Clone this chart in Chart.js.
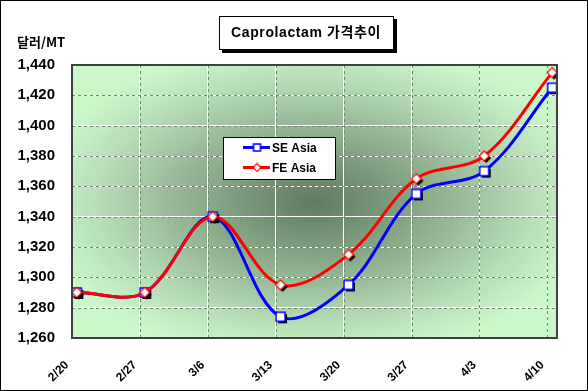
<!DOCTYPE html>
<html>
<head>
<meta charset="utf-8">
<script src="https://cdn.jsdelivr.net/npm/chart.js@4/dist/chart.umd.min.js"></script>
<style>
  html, body { margin: 0; padding: 0; background: #fff; }
  canvas { display: block; }
</style>
</head>
<body>
<canvas id="chart" width="588" height="391"></canvas>
<script>
// 데이터
const dayLabels = ['2/20', '2/27', '3/6', '3/13', '3/20', '3/27', '4/3', '4/10'];
const seAsia = [1290, 1290, 1340, 1274, 1295, 1355, 1370, 1425];
const feAsia = [1290, 1290, 1340, 1295, 1315, 1365, 1380, 1435];
const seriesNames = ['SE Asia', 'FE Asia'];
const yMin = 1260;
const yMax = 1440;
const yStep = 20;

const DAYS_PER_WEEK = 7;
const AXIS_DAYS = 50;      // 2/20 ~ 4/11 (날짜축)
const DAY_CENTER = 0.5;    // 점은 날짜 칸의 가운데

function toPoints(values) {
  return values.map((v, i) => ({ x: i * DAYS_PER_WEEK + DAY_CENTER, y: v }));
}

// 그림자 있는 마커 이미지
function makeMarker(shape, color, size, shadow) {
  const c = document.createElement('canvas');
  const dim = size + 8;
  c.width = dim;
  c.height = dim;
  const ctx = c.getContext('2d');
  const m = dim / 2;
  const h = size / 2;

  function path(dx) {
    ctx.beginPath();
    if (shape === 'square') {
      ctx.rect(m - h + dx, m - h + dx, size, size);
    } else {
      ctx.moveTo(m + dx, m - h + dx);
      ctx.lineTo(m + h + dx, m + dx);
      ctx.lineTo(m + dx, m + h + dx);
      ctx.lineTo(m - h + dx, m + dx);
      ctx.closePath();
    }
  }
  if (shadow) {
    path(2);
    ctx.fillStyle = '#000';
    ctx.fill();
  }
  path(0);
  ctx.fillStyle = '#fff';
  ctx.fill();
  ctx.lineWidth = shape === 'square' ? 1.5 : 1.2;
  ctx.strokeStyle = color;
  ctx.stroke();
  return c;
}

const seMarker = makeMarker('square', '#0000ff', 9, true);
const feMarker = makeMarker('diamond', '#ff0000', 10, true);
const seLegendMarker = makeMarker('square', '#0000ff', 7, false);
const feLegendMarker = makeMarker('diamond', '#ff0000', 8, false);

// 배경 + 격자 점선
const plotBackground = {
  id: 'plotBackground',
  beforeDraw(chart) {
    const { ctx, chartArea: a } = chart;
    ctx.save();
    ctx.fillStyle = '#fff';
    ctx.fillRect(0, 0, chart.width, chart.height);
    const w = a.right - a.left;
    const hgt = a.bottom - a.top;
    const ratio = hgt / w;
    ctx.translate((a.left + a.right) / 2, (a.top + a.bottom) / 2);
    ctx.scale(1, ratio);
    const g = ctx.createRadialGradient(0, 0, 0, 0, 0, w * 0.58);
    g.addColorStop(0, '#5f7a5f');
    g.addColorStop(0.25, '#7a987a');
    g.addColorStop(0.52, '#9abb9a');
    g.addColorStop(0.78, '#b8dfb8');
    g.addColorStop(1, '#cbf8cb');
    ctx.fillStyle = g;
    ctx.fillRect(-w / 2, -hgt / 2 / ratio, w, hgt / ratio);
    ctx.restore();
  },
  beforeDatasetsDraw(chart) {
    const { ctx, chartArea: a, scales } = chart;
    ctx.save();
    ctx.strokeStyle = '#808080';
    ctx.lineWidth = 1;
    ctx.setLineDash([3, 3]);
    scales.y.ticks.forEach(t => {
      const y = Math.round(scales.y.getPixelForValue(t.value)) + 0.5;
      ctx.beginPath();
      ctx.moveTo(a.left, y);
      ctx.lineTo(a.right, y);
      ctx.stroke();
    });
    scales.x.ticks.forEach(t => {
      const x = Math.round(scales.x.getPixelForValue(t.value)) + 0.5;
      ctx.beginPath();
      ctx.moveTo(x, a.top);
      ctx.lineTo(x, a.bottom);
      ctx.stroke();
    });
    ctx.restore();
  },
  afterDatasetsDraw(chart) {
    const { ctx, chartArea: a } = chart;
    ctx.save();
    ctx.strokeStyle = '#404040';
    ctx.lineWidth = 2;
    ctx.strokeRect(a.left, a.top, a.right - a.left, a.bottom - a.top);
    ctx.restore();
  }
};

// 범례 상자 (플롯 안)
const boxLegend = {
  id: 'boxLegend',
  afterDraw(chart, args, opts) {
    const { ctx, chartArea: a } = chart;
    const x = a.left + opts.dx;
    const y = a.top + opts.dy;
    ctx.save();
    ctx.fillStyle = '#fff';
    ctx.fillRect(x, y, opts.width, opts.height);
    ctx.strokeStyle = '#000';
    ctx.lineWidth = 1;
    ctx.strokeRect(x + 0.5, y + 0.5, opts.width, opts.height);
    const markers = [seLegendMarker, feLegendMarker];
    chart.data.datasets.forEach((ds, i) => {
      const ry = Math.round(y + 10 + i * 20) + 0.5;
      ctx.strokeStyle = ds.borderColor;
      ctx.lineWidth = 3;
      ctx.beginPath();
      ctx.moveTo(x + 20, ry);
      ctx.lineTo(x + 47, ry);
      ctx.stroke();
      const mk = markers[i];
      ctx.drawImage(mk, x + 34 - mk.width / 2, ry - mk.height / 2);
      ctx.fillStyle = '#000';
      ctx.font = 'bold 12px "Liberation Sans", Arial, sans-serif';
      ctx.textBaseline = 'middle';
      ctx.fillText(ds.label, x + 49, ry + 1);
    });
    ctx.restore();
  }
};

// 제목, 단위, 테두리
const frameText = {
  id: 'frameText',
  afterDraw(chart) {
    const ctx = chart.ctx;
    ctx.save();
    // 제목 상자
    ctx.fillStyle = '#000';
    ctx.fillRect(222, 19, 175, 34);
    ctx.fillStyle = '#fff';
    ctx.fillRect(219, 16, 175, 34);
    ctx.strokeStyle = '#000';
    ctx.lineWidth = 1;
    ctx.strokeRect(219.5, 16.5, 174, 33);
    ctx.fillStyle = '#000';
    ctx.font = 'bold 14px "Liberation Sans", "Noto Sans CJK KR", sans-serif';
    ctx.letterSpacing = '0.6px';
    ctx.textAlign = 'center';
    ctx.textBaseline = 'middle';
    ctx.fillText('Caprolactam 가격추이', 306, 33);
    // 단위
    ctx.letterSpacing = '0px';
    ctx.textAlign = 'left';
    ctx.textBaseline = 'alphabetic';
    ctx.font = 'bold 13px "Noto Sans CJK KR", "Liberation Sans", sans-serif';
    ctx.fillText('달러/MT', 17, 47);
    // 바깥 테두리
    ctx.strokeStyle = '#000';
    ctx.strokeRect(0.5, 0.5, chart.width - 1, chart.height - 1);
    ctx.restore();
  }
};

const ctx = document.getElementById('chart').getContext('2d');
const chart = new Chart(ctx, {
  type: 'line',
  data: {
    datasets: [
      {
        label: seriesNames[0],
        data: toPoints(seAsia),
        borderColor: '#0000ff',
        backgroundColor: '#0000ff',
        borderWidth: 3,
        tension: 0.35,
        pointStyle: seMarker,
        pointRadius: 5,
        order: 1
      },
      {
        label: seriesNames[1],
        data: toPoints(feAsia),
        borderColor: '#ff0000',
        backgroundColor: '#ff0000',
        borderWidth: 3,
        tension: 0.35,
        pointStyle: feMarker,
        pointRadius: 5,
        order: 0
      }
    ]
  },
  options: {
    responsive: false,
    animation: false,
    devicePixelRatio: 1,
    layout: { padding: { top: 65, right: 31, left: 0, bottom: 0 } },
    plugins: {
      legend: { display: false },
      title: { display: false },
      tooltip: { enabled: false },
      boxLegend: { dx: 151, dy: 72, width: 112, height: 42 }
    },
    scales: {
      x: {
        type: 'linear',
        min: 0,
        max: AXIS_DAYS,
        afterBuildTicks: s => {
          s.ticks = dayLabels.map((l, i) => ({ value: i * DAYS_PER_WEEK }));
        },
        afterFit: s => { s.height = 53; },
        ticks: {
          autoSkip: false,
          minRotation: 45,
          maxRotation: 45,
          padding: 20,
          labelOffset: -5,
          color: '#000',
          font: { family: '"Liberation Sans", Arial, sans-serif', size: 12, weight: 'bold' },
          callback: (v, i) => dayLabels[i]
        },
        grid: { color: '#ffffff', drawTicks: false },
        border: { display: false }
      },
      y: {
        min: yMin,
        max: yMax,
        afterFit: s => { s.width = 72; },
        ticks: {
          stepSize: yStep,
          padding: 17,
          color: '#000',
          font: { family: '"Liberation Sans", Arial, sans-serif', size: 15, weight: 'bold' },
          callback: v => v.toLocaleString('en-US')
        },
        grid: { color: '#ffffff', drawTicks: false },
        border: { display: false }
      }
    }
  },
  plugins: [plotBackground, boxLegend, frameText]
});
</script>
</body>
</html>
